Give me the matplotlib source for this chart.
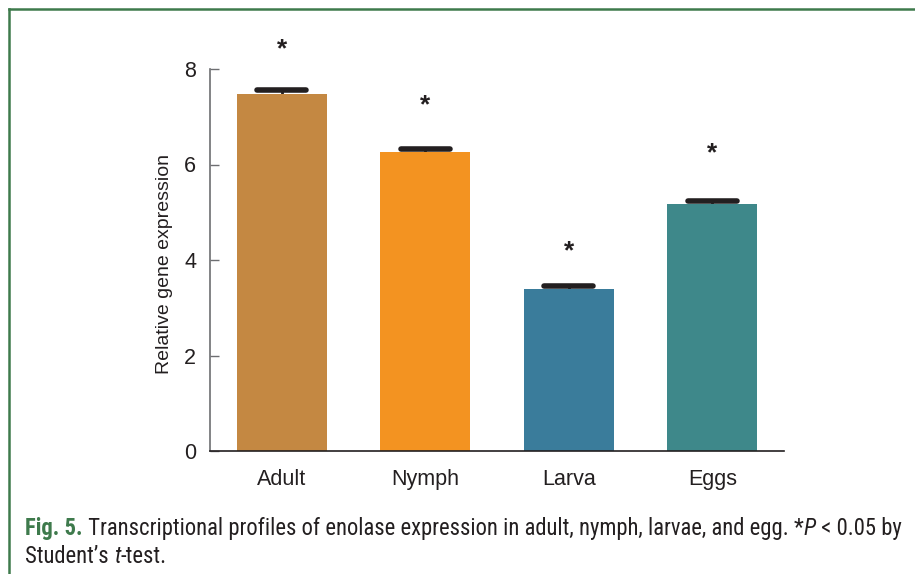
import matplotlib
matplotlib.use("Agg")
import matplotlib.pyplot as plt
from matplotlib.lines import Line2D
from matplotlib import font_manager

# ---- data ----
categories = ["Adult", "Nymph", "Larva", "Eggs"]
values = [7.48, 6.26, 3.39, 5.17]
errors = [0.07, 0.06, 0.06, 0.07]
significance = ["*", "*", "*", "*"]
yticks = [0, 2, 4, 6, 8]
ylabel = "Relative gene expression"

# ---- style ----
colors = ["#C48842", "#F39321", "#3A7C9B", "#3E888A"]
star_offsets_px = [47, 49, 40, 53]
green = "#3E7A4C"
dark = "#231F20"

plt.rcParams["font.family"] = ["Liberation Sans", "DejaVu Sans"]
fonts = font_manager.fontManager.ttflist
names = {f.name for f in fonts}
cap_font, cap_stretch = "Liberation Sans", "normal"
for cand in ["Roboto Condensed", "Open Sans Condensed", "Liberation Sans Narrow", "Arial Narrow",
             "Noto Sans Condensed", "Open Sans SemiCondensed"]:
    if cand in names:
        cap_font = cand
        break
else:
    for f in fonts:
        if f.name in ("Roboto", "Noto Sans", "Open Sans", "DejaVu Sans") and "ondensed" in str(f.stretch) and f.style == "normal":
            cap_font, cap_stretch = f.name, f.stretch
            break

fig = plt.figure(figsize=(9.15, 5.74), dpi=100)
ax = fig.add_axes([210 / 915, 1 - 451 / 574, (784 - 210) / 915, (451 - 69) / 574])

x = list(range(len(categories)))
ax.bar(x, values, width=0.63, color=colors, edgecolor="none", zorder=2)
# error bars: hidden stem + rounded cap
tops = [v + e for v, e in zip(values, errors)]
ax.vlines(x, values, tops, color=dark, linewidth=2, zorder=1)
caps = ax.hlines(tops, [i - 0.17 for i in x], [i + 0.17 for i in x],
                 color=dark, linewidth=4, zorder=3)
caps.set_capstyle("round")

for i, (t, s) in enumerate(zip(tops, significance)):
    ax.annotate(s, xy=(i, t), xytext=(0, star_offsets_px[i] * 0.72 - 9),
                textcoords="offset points", ha="center", va="baseline",
                fontsize=19, fontweight="bold", color=dark, annotation_clip=False)

ax.set_xlim(-0.5, 3.5)
ax.set_ylim(0, 8)
ax.set_yticks(yticks)
ax.set_yticklabels([str(t) for t in yticks])
ax.set_xticks(x)
ax.set_xticklabels(categories)
ax.tick_params(axis="y", direction="in", length=6.5, width=1, color="#6D6E71",
               labelsize=15.5, labelcolor=dark, pad=10)
ax.tick_params(axis="x", length=0, labelsize=15.5, labelcolor=dark, pad=13)
for sp in ["top", "right"]:
    ax.spines[sp].set_visible(False)
ax.spines["left"].set_color("#6D6E71")
ax.spines["left"].set_linewidth(1.2)
ax.spines["bottom"].set_color(dark)
ax.spines["bottom"].set_linewidth(1.2)
ax.set_ylabel(ylabel, fontsize=14, color=dark)
ax.yaxis.set_label_coords(-0.0645, 0.49)

# ---- frame lines (top and left) ----
fig.add_artist(Line2D([9 / 915, 1], [1 - 9 / 574, 1 - 9 / 574], transform=fig.transFigure,
                      color=green, linewidth=1.8))
fig.add_artist(Line2D([9 / 915, 9 / 915], [0, 1 - 9 / 574], transform=fig.transFigure,
                      color=green, linewidth=1.8))

# ---- caption, drawn piece by piece ----
renderer = fig.canvas.get_renderer()

line1 = [
    ("Fig. 5.", dict(weight="bold", color=green)),
    (" Transcriptional profiles of enolase expression in adult, nymph, larvae, and egg. *", dict(color=dark)),
    ("P", dict(color=dark, style="italic")),
    (" < 0.05 by", dict(color=dark)),
]
line2 = [
    ("Student\u2019s ", dict(color=dark)),
    ("t", dict(color=dark, style="italic")),
    ("-test.", dict(color=dark)),
]


def draw_line(pieces, x0_px, y_px, size, draw=True):
    xp = x0_px
    made = []
    for txt, kw in pieces:
        t = fig.text(xp / 915, 1 - y_px / 574, txt, fontsize=size, family=[cap_font, "DejaVu Sans"],
                     fontstretch=cap_stretch, va="baseline", ha="left", **kw)
        bb = t.get_window_extent(renderer=renderer)
        xp += bb.width
        made.append(t)
    if not draw:
        for t in made:
            t.remove()
    return xp - x0_px


w = draw_line(line1, 25, 535, 12, draw=False)
cap_size = 12 * 876 / w
draw_line(line1, 25, 535, cap_size)
draw_line(line2, 25, 563, cap_size)

fig.savefig("out.png", dpi=100)
